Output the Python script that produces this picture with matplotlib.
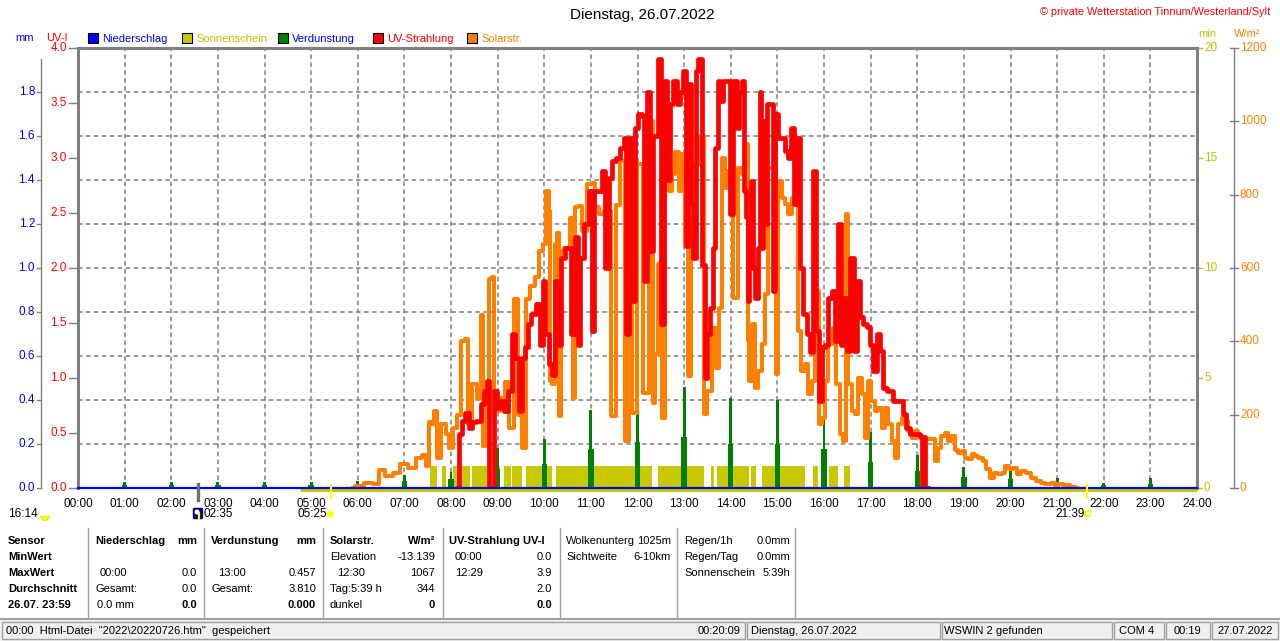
import matplotlib
matplotlib.use('Agg')
import matplotlib.pyplot as plt
from matplotlib.patches import Rectangle, Wedge, Circle
from matplotlib.transforms import blended_transform_factory as blend

plt.rcParams['font.family'] = ['Liberation Sans Narrow', 'Liberation Sans', 'DejaVu Sans']

# ---------------- data ----------------
hours = list(range(0, 25))
hour_labels = [f"{h:02d}:00" for h in hours]

# Solar radiation W/m² (time in minutes of day)
solar_t = [354, 360, 375, 385, 390, 400, 410, 420, 430, 440, 445, 450, 453, 456, 460, 464, 471, 475, 480,
           486, 490, 496, 501, 503, 510, 516, 520, 523, 526, 531, 534, 537, 540, 546, 552, 558, 563, 569,
           573, 579, 584, 591, 596, 601, 604, 607, 608, 612, 616, 618, 621, 623, 629, 636, 638, 642, 646,
           651, 659, 663, 668, 674, 681, 690, 694, 700, 707, 711, 716, 723, 732, 738, 741, 745, 749, 753,
           758, 762, 766, 771, 775, 779, 783, 786, 792, 796, 804, 807, 813, 818, 823, 826, 831, 835, 839,
           846, 852, 856, 861, 863, 865, 869, 873, 878, 882, 886, 891, 895, 897, 899, 903, 908, 912, 916,
           921, 925, 929, 933, 938, 942, 946, 951, 955, 959, 963, 968, 974, 978, 983, 987, 989, 993, 998,
           1002, 1006, 1011, 1015, 1019, 1023, 1028, 1032, 1036, 1041, 1045, 1049, 1053, 1058, 1062, 1066,
           1071, 1075, 1079, 1083, 1090, 1096, 1101, 1105, 1109, 1113, 1118, 1122, 1126, 1131, 1135, 1139,
           1143, 1148, 1152, 1156, 1161, 1167, 1171, 1176, 1182, 1186, 1191, 1195, 1201, 1206, 1210, 1216,
           1223, 1229, 1236, 1242, 1248, 1255, 1259, 1263, 1272, 1281, 1285]
solar_v = [0, 5, 15, 12, 48, 33, 42, 65, 55, 82, 90, 60, 180, 175, 210, 82, 175, 146, 110,
           165, 200, 400, 405, 175, 283, 245, 472, 115, 265, 570, 575, 250, 210, 245, 290, 165, 515, 200,
           110, 515, 550, 575, 645, 665, 810, 755, 292, 283, 665, 696, 196, 646, 655, 737, 246, 765, 770,
           700, 828, 833, 765, 746, 755, 196, 773, 892, 128, 800, 205, 883, 260, 1000, 233, 365, 610, 192,
           828, 810, 855, 915, 810, 910, 665, 305, 737, 883, 960, 201, 265, 437, 328, 492, 900, 819, 865,
           519, 874, 855, 937, 400, 292, 446, 274, 319, 392, 528, 874, 874, 1010, 310, 837, 792, 774, 746,
           792, 955, 428, 319, 337, 255, 292, 537, 174, 192, 292, 392, 437, 283, 146, 128, 746, 283, 210,
           201, 301, 255, 137, 292, 237, 210, 219, 165, 219, 174, 128, 83, 174, 192, 183,
           155, 137, 155, 142, 133, 133, 133, 74, 110, 142, 151, 128, 142, 105, 96, 101,
           83, 78, 92, 87, 83, 74, 51, 28, 42, 37, 42, 60, 51, 55, 37, 46,
           42, 28, 19, 15, 10, 15, 5, 10, 8, 3, 0]

# UV index
uv_t = [489, 492, 496, 501, 505, 509, 516, 520, 524, 528, 531, 534, 537, 541, 546, 550, 556, 561, 565,
        569, 573, 578, 580, 586, 593, 597, 600, 603, 608, 612, 616, 621, 623, 631, 638, 642, 644, 648,
        655, 659, 663, 666, 672, 676, 681, 685, 689, 696, 700, 704, 707, 711, 715, 719, 723, 728, 730,
        734, 738, 743, 749, 751, 756, 760, 764, 768, 773, 777, 781, 783, 788, 790, 794, 796, 800, 805,
        809, 811, 816, 818, 822, 824, 828, 833, 837, 841, 846, 850, 852, 856, 858, 861, 863, 865, 867,
        869, 873, 876, 878, 880, 884, 886, 888, 893, 895, 899, 903, 908, 912, 916, 920, 923, 927, 931,
        936, 940, 944, 948, 951, 955, 959, 963, 968, 972, 976, 980, 983, 987, 991, 996, 1000, 1004,
        1008, 1013, 1017, 1021, 1026, 1030, 1034, 1038, 1043, 1047, 1051, 1056, 1060, 1064, 1068,
        1073, 1077, 1081, 1085, 1087, 1089, 1091, 1094]
uv_v = [0.0, 0.49, 0.61, 0.68, 0.55, 0.6, 0.61, 0.76, 0.88, 0.97, 0.0, 0.0, 0.88, 0.73, 0.79, 0.7, 0.88, 1.4, 1.18,
        0.7, 1.18, 1.28, 1.49, 1.58, 1.67, 1.3, 1.88, 1.4, 1.13, 1.03, 1.88, 1.3, 2.09, 2.18, 1.4, 2.28, 1.3, 2.09,
        2.4, 2.7, 1.43, 2.7, 2.7, 2.88, 2.0, 2.82, 2.97, 3.0, 3.09, 3.18, 1.4, 3.18, 1.7, 3.27, 3.4, 3.38, 1.88,
        3.6, 2.15, 3.2, 3.9, 1.49, 3.7, 2.8, 3.49, 3.7, 3.49, 3.6, 3.79, 2.2, 3.67, 2.58, 2.09, 3.79, 3.9, 2.03,
        1.0, 1.4, 1.64, 2.18, 3.09, 3.7, 3.52, 3.7, 3.7, 2.49, 3.7, 3.27, 3.6, 3.7, 2.7, 2.46, 1.7, 2.18, 2.79,
        2.0, 1.73, 2.18, 3.6, 2.18, 3.34, 2.4, 3.49, 3.49, 1.79, 3.4, 3.18, 3.18, 3.06, 3.0, 3.27, 2.58, 3.18, 2.0,
        1.58, 1.4, 1.24, 2.88, 1.43, 0.79, 1.28, 1.3, 1.73, 1.79, 1.34, 2.4, 1.3, 1.73, 1.25, 2.09, 1.25, 1.88,
        1.55, 1.49, 1.46, 1.3, 1.06, 1.4, 1.25, 0.91, 0.88, 0.88, 0.79, 0.79, 0.79, 0.67, 0.55,
        0.49, 0.49, 0.49, 0.46, 0.0, 0.46, 0.0, 0.0]

# Sunshine minutes (intervals with sunshine)
sun_start = [453, 468, 483, 507, 534, 548, 559, 576, 601, 615, 746, 814, 822, 866, 880, 946, 957, 966, 986]
sun_end = [462, 474, 504, 529, 543, 557, 571, 598, 610, 739, 806, 818, 864, 872, 936, 952, 963, 978, 994]
sun_min = 1.0

# Evaporation mm (hourly)
evap_hour = list(range(1, 24))
evap_mm = [0.027, 0.027, 0.027, 0.027, 0.027, 0.03, 0.06, 0.075, 0.18, 0.224, 0.353, 0.43, 0.457,
           0.41, 0.40, 0.353, 0.255, 0.15, 0.097, 0.077, 0.045, 0.024, 0.045]
evap_side = [0.014, 0.014, 0.014, 0.014, 0.014, 0.015, 0.03, 0.04, 0.085, 0.107, 0.176, 0.21, 0.23,
             0.2, 0.2, 0.176, 0.12, 0.077, 0.05, 0.04, 0.02, 0.012, 0.02]

mm_ticks = [0.0, 0.2, 0.4, 0.6, 0.8, 1.0, 1.2, 1.4, 1.6, 1.8]
uv_ticks = [0.0, 0.5, 1.0, 1.5, 2.0, 2.5, 3.0, 3.5, 4.0]
min_ticks = [0, 5, 10, 15, 20]
w_ticks = [0, 200, 400, 600, 800, 1000, 1200]

# ---------------- colours ----------------
BLUE = '#0000FF'; RED = '#FF0000'; OLIVE = '#C8C800'; OLIVE_T = '#C0C000'
GREEN = '#008000'; ORANGE = '#FF8000'; GRAY = '#808080'

W, H = 1280, 641
fig = plt.figure(figsize=(12.8, 6.41), dpi=100)
fig.patch.set_facecolor('white')
ov = fig.add_axes([0, 0, 1, 1])
ov.set_xlim(0, W); ov.set_ylim(H, 0); ov.axis('off')

L, R, T, B = 78, 1197, 48, 488
rect = [L / W, 1 - B / H, (R - L) / W, (B - T) / H]

ax = fig.add_axes(rect)          # sunshine (min) + grid
ax.set_xlim(0, 1440); ax.set_ylim(0, 20)
ax_mm = ax.twinx(); ax_mm.set_ylim(0, 2)
ax_w = ax.twinx(); ax_w.set_ylim(0, 1200)
ax_uv = ax.twinx(); ax_uv.set_ylim(0, 4)

for a in (ax_mm, ax_w, ax_uv):
    a.set_yticks([])
    for s in a.spines.values():
        s.set_visible(False)

ax.set_yticks([2, 4, 6, 8, 10, 12, 14, 16, 18])
ax.set_yticklabels([])
ax.tick_params(axis='y', length=0)
ax.set_xticks([h * 60 for h in hours])
ax.set_xticklabels(hour_labels, fontsize=8.5)
ax.tick_params(axis='x', length=0, pad=7)
ax.grid(True, color=GRAY, linestyle=(0, (3, 2.2)), linewidth=1.1)
ax.set_axisbelow(True)
for side in ('top', 'left', 'right'):
    ax.spines[side].set_color(GRAY)
    ax.spines[side].set_linewidth(2.2)
ax.spines['bottom'].set_visible(False)

# sunshine bars
ax.bar(sun_start, [sun_min] * len(sun_start), width=[e - s for s, e in zip(sun_start, sun_end)],
       align='edge', color=OLIVE, linewidth=0, zorder=2)

# evaporation
ax_mm.bar([h * 60 for h in evap_hour], evap_side, width=7, color=GREEN, linewidth=0, zorder=2)
ax_mm.bar([h * 60 for h in evap_hour], evap_mm, width=3.6, color=GREEN, linewidth=0, zorder=2)

# solar + UV
ax_w.plot(solar_t, solar_v, color=ORANGE, lw=2.9, drawstyle='steps-mid', zorder=3)
ax_uv.plot(uv_t, uv_v, color=RED, lw=3.4, drawstyle='steps-mid', zorder=3)

# zero lines
bt = blend(ax_uv.transData, ax_uv.transAxes)
ax_uv.plot([286, 1440], [-0.0045, -0.0045], transform=bt, color=OLIVE, lw=2.2, clip_on=False, zorder=4,
           solid_capstyle='butt')
ax_uv.axhline(0, color=BLUE, lw=1.6, clip_on=False, zorder=5)

# sunrise / sunset / moon markers on axis
ax_uv.plot([155, 155], [0.009, -0.027], transform=bt, color='#707070', lw=2.4, clip_on=False, zorder=6)
ax_uv.plot([325, 325], [0.007, -0.022], transform=bt, color='#FFFF00', lw=1.5, clip_on=False, zorder=6)
ax_uv.plot([1299, 1299], [0.007, -0.022], transform=bt, color='#FFFF00', lw=1.5, clip_on=False, zorder=6)

# ---------------- axis labels (left/right) ----------------
def py(v, vmax):
    return B - v / vmax * (B - T)

TF = 8.5
for v in mm_ticks:
    y = py(v, 2.0)
    ov.text(35, y, f"{v:.1f}", color=BLUE, fontsize=TF, ha='right', va='center')
    ov.plot([37, 41], [y, y], color=GRAY, lw=1)
ov.plot([41, 41], [59, B], color=GRAY, lw=1)
for v in uv_ticks:
    y = py(v, 4.0)
    ov.text(67, y, f"{v:.1f}", color=RED, fontsize=TF, ha='right', va='center')
    ov.plot([69, 76], [y, y], color=GRAY, lw=1)
for v in min_ticks:
    y = py(v, 20)
    ov.text(1204, y, f"{v}", color=OLIVE_T, fontsize=TF, ha='left', va='center')
    ov.plot([1198, 1202], [y, y], color=OLIVE_T, lw=1)
for v in w_ticks:
    y = py(v, 1200)
    ov.text(1240, y, f"{v}", color=ORANGE, fontsize=TF, ha='left', va='center')
    ov.plot([1230, 1238], [y, y], color=GRAY, lw=1)
ov.plot([1234, 1234], [T, B], color=GRAY, lw=1)

# ---------------- header ----------------
ov.text(642, 15, "Dienstag, 26.07.2022", fontsize=11, ha='center', va='center', color='black')
ov.text(1270, 12, "© private Wetterstation Tinnum/Westerland/Sylt", fontsize=7.8, ha='right', va='center',
        color=RED)
ov.text(15, 38, "mm", color=BLUE, fontsize=8, ha='left', va='center')
ov.text(46, 38, "UV-I", color=RED, fontsize=8, ha='left', va='center')
ov.text(1198, 34, "min", color=OLIVE_T, fontsize=8, ha='left', va='center')
ov.text(1234, 34, "W/m²", color=ORANGE, fontsize=8, ha='left', va='center')

legend = [(88, BLUE, "Niederschlag", BLUE), (182, OLIVE, "Sonnenschein", OLIVE_T),
          (278, GREEN, "Verdunstung", BLUE), (373, RED, "UV-Strahlung", RED),
          (467, ORANGE, "Solarstr.", ORANGE)]
for x, fc, label, tc in legend:
    ov.add_patch(Rectangle((x, 33), 10, 10, facecolor=fc, edgecolor='black', lw=0.8))
    ov.text(x + 14, 38.5, label, color=tc, fontsize=8, ha='left', va='center')

# ---------------- astro labels ----------------
ov.text(8, 514, "16:14", fontsize=8.5, ha='left', va='center')
ov.add_patch(Wedge((45, 516), 4.5, 0, 180, facecolor='#FFFF00', edgecolor='#E0E000', lw=0.5))
ov.add_patch(Rectangle((193, 508), 9, 10, facecolor='#000080', edgecolor='#000080'))
ov.add_patch(Circle((197, 512), 2.5, facecolor='#FFFFFF'))
ov.plot([199, 199], [513, 518], color='#FFFF00', lw=1.6)
ov.text(204, 514, "02:35", fontsize=8.5, ha='left', va='center')
ov.text(297, 514, "05:25", fontsize=8.5, ha='left', va='center')
ov.add_patch(Circle((330, 514), 3.5, facecolor='#FFFF00', edgecolor='#FFFF80', lw=1.5))
ov.text(1055, 514, "21:39", fontsize=8.5, ha='left', va='center')
ov.add_patch(Rectangle((1085, 511), 5, 5, facecolor='white', edgecolor='#FFFF00', lw=1.2))

# ---------------- table ----------------
for x in (88, 204, 323, 443, 560, 677, 795):
    ov.plot([x, x], [528, 617], color='#A0A0A0', lw=1)
rows = [541, 557, 573, 589, 605]
fs = 8
for i, s in enumerate(["Sensor", "MinWert", "MaxWert", "Durchschnitt", "26.07. 23:59"]):
    ov.text(8, rows[i], s, fontsize=fs, fontweight='bold', ha='left', va='center')

cells = [
    (95, 0, "Niederschlag", 'left', True), (197, 0, "mm", 'right', True),
    (100, 2, "00:00", 'left', False), (197, 2, "0.0", 'right', False),
    (95, 3, "Gesamt:", 'left', False), (197, 3, "0.0", 'right', False),
    (97, 4, "0.0 mm", 'left', False), (197, 4, "0.0", 'right', True),
    (211, 0, "Verdunstung", 'left', True), (316, 0, "mm", 'right', True),
    (218, 2, "13:00", 'left', False), (316, 2, "0.457", 'right', False),
    (211, 3, "Gesamt:", 'left', False), (316, 3, "3.810", 'right', False),
    (316, 4, "0.000", 'right', True),
    (330, 0, "Solarstr.", 'left', True), (435, 0, "W/m²", 'right', True),
    (330, 1, "Elevation", 'left', False), (435, 1, "-13.139", 'right', False),
    (337, 2, "12:30", 'left', False), (435, 2, "1067", 'right', False),
    (330, 3, "Tag:5:39 h", 'left', False), (435, 3, "344", 'right', False),
    (330, 4, "dunkel", 'left', False), (435, 4, "0", 'right', True),
    (449, 0, "UV-Strahlung UV-I", 'left', True),
    (455, 1, "00:00", 'left', False), (552, 1, "0.0", 'right', False),
    (455, 2, "12:29", 'left', False), (552, 2, "3.9", 'right', False),
    (552, 3, "2.0", 'right', False), (552, 4, "0.0", 'right', True),
    (566, 0, "Wolkenunterg", 'left', False), (671, 0, "1025m", 'right', False),
    (566, 1, "Sichtweite", 'left', False), (671, 1, "6-10km", 'right', False),
    (684, 0, "Regen/1h", 'left', False), (790, 0, "0.0mm", 'right', False),
    (684, 1, "Regen/Tag", 'left', False), (790, 1, "0.0mm", 'right', False),
    (684, 2, "Sonnenschein", 'left', False), (790, 2, "5:39h", 'right', False),
]
for x, r, s, ha, bold in cells:
    ov.text(x, rows[r], s, fontsize=fs, fontweight='bold' if bold else 'normal', ha=ha, va='center')

# ---------------- status bar ----------------
ov.plot([0, W], [619, 619], color='#A0A0A0', lw=1.5)
ov.add_patch(Rectangle((0, 620), W, 21, facecolor='#F0F0F0', edgecolor='none'))
for x0, x1 in [(2, 745), (747, 940), (942, 1112), (1114, 1164), (1166, 1210), (1212, 1278)]:
    ov.add_patch(Rectangle((x0, 622), x1 - x0, 17, facecolor='#F0F0F0', edgecolor='#A0A0A0', lw=1))
sb = [(6, "00:00  Html-Datei  \"2022\\20220726.htm\"  gespeichert", 'left'),
      (741, "00:20:09", 'right'), (751, "Dienstag, 26.07.2022", 'left'),
      (944, "WSWIN 2 gefunden", 'left'), (1119, "COM 4", 'left'),
      (1174, "00:19", 'left'), (1217, "27.07.2022", 'left')]
for x, s, ha in sb:
    ov.text(x, 630.5, s, fontsize=8, ha=ha, va='center')

fig.savefig('out.png', dpi=100, facecolor='white')
